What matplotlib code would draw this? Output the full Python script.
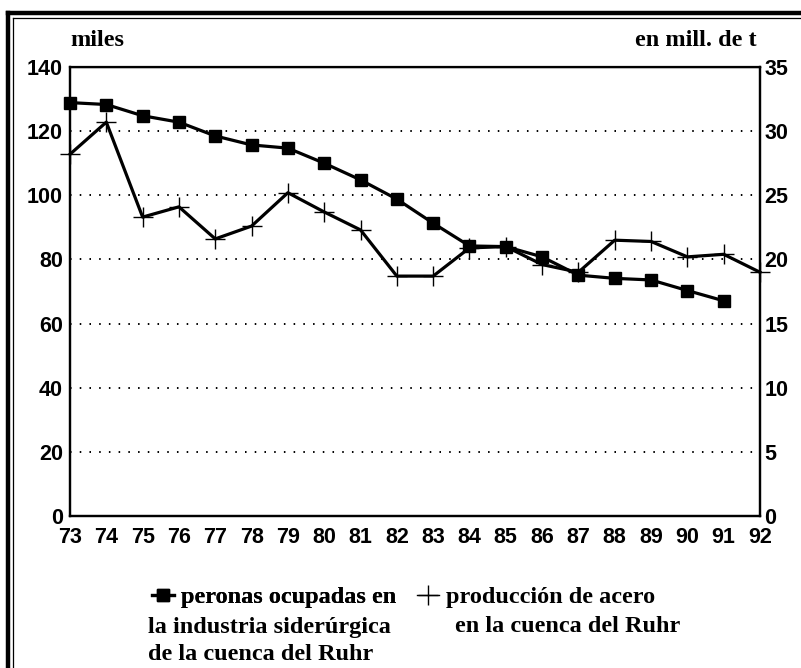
import numpy as np
import matplotlib.pyplot as plt
from matplotlib.lines import Line2D

# data
years = list(range(73, 93))
year_labels = [str(y) for y in years]
personas = [128.9, 128.3, 124.8, 122.8, 118.5, 115.7, 114.7, 110.0, 104.8, 98.8,
            91.3, 84.2, 84.0, 80.8, 75.1, 74.1, 73.6, 70.3, 67.1]
produccion = [28.2, 30.7, 23.3, 24.1, 21.6, 22.6, 25.2, 23.7, 22.3, 18.7,
              18.7, 20.9, 21.0, 19.6, 19.0, 21.5, 21.4, 20.2, 20.4, 19.0]
left_ticks = [0, 20, 40, 60, 80, 100, 120, 140]
right_ticks = [0, 5, 10, 15, 20, 25, 30, 35]

tick_font = {'family': 'Liberation Sans', 'weight': 'bold', 'size': 15.5}
serif = ['Liberation Serif', 'DejaVu Serif']
txt = dict(family=serif, weight='bold', size=17.5)

fig = plt.figure(figsize=(8.01, 6.68), dpi=100)
ax = fig.add_axes([70 / 801, 1 - 516 / 668, 690 / 801, 449 / 668])
ax2 = ax.twinx()

ax.plot(years[:len(personas)], personas, color='black', lw=2.3,
        marker='s', ms=8, zorder=3, clip_on=False)
ax2.plot(years, produccion, color='black', lw=2.3,
         marker='+', ms=15, mew=1.0, zorder=3, clip_on=False)

ax.set_xlim(73, 92)
ax.set_ylim(0, 140)
ax2.set_ylim(0, 35)
ax.set_xticks(years)
ax.set_xticklabels(year_labels, fontdict=tick_font)
ax.set_yticks(left_ticks)
ax.set_yticklabels([str(t) for t in left_ticks], fontdict=tick_font)
ax2.set_yticks(right_ticks)
ax2.set_yticklabels([str(t) for t in right_ticks], fontdict=tick_font)
ax.tick_params(axis='x', length=0, pad=8)
ax.tick_params(axis='y', length=0, pad=5)
ax2.tick_params(axis='y', length=0, pad=3)

for s in ['left', 'right', 'top', 'bottom']:
    ax.spines[s].set_linewidth(1.6)
    ax2.spines[s].set_linewidth(1.6)
ax2.spines['top'].set_linewidth(1.0)

for v in left_ticks[1:-1]:
    ax.axhline(v, color='black', lw=1.4, ls=(0, (0.8, 4.2)), zorder=1)

fig.text(70 / 801, 1 - 40 / 668, 'miles', ha='left', va='center', **txt)
fig.text(757 / 801, 1 - 40 / 668, 'en mill. de t', ha='right', va='center', **txt)

# outer frame (double line at top and left)
fig.add_artist(Line2D([8 / 801, 8 / 801], [0, 1 - 13 / 668], color='black', lw=3.2))
fig.add_artist(Line2D([8 / 801, 1], [1 - 13 / 668, 1 - 13 / 668], color='black', lw=3.2))
fig.add_artist(Line2D([13 / 801, 13 / 801], [0, 1 - 18 / 668], color='black', lw=0.9))
fig.add_artist(Line2D([13 / 801, 1], [1 - 18 / 668, 1 - 18 / 668], color='black', lw=0.9))

# legend
h1 = Line2D([], [], color='black', lw=2.3, marker='s', ms=8)
h2 = Line2D([], [], color='black', lw=1.0, marker='+', ms=15, mew=1.0)
leg_kw = dict(loc='center left', frameon=False, handlelength=0.9,
              handletextpad=0.3, borderaxespad=0, borderpad=0,
              prop={'family': serif, 'weight': 'bold', 'size': 17.5})
leg1 = fig.legend([h1], ['peronas ocupadas en'],
                  bbox_to_anchor=(152 / 801, 1 - 597 / 668), **leg_kw)
fig.add_artist(leg1)
fig.legend([h2], ['producción de acero'],
           bbox_to_anchor=(417 / 801, 1 - 597 / 668), **leg_kw)
fig.text(148 / 801, 1 - 627 / 668, 'la industria siderúrgica',
         ha='left', va='center', **txt)
fig.text(148 / 801, 1 - 655 / 668, 'de la cuenca del Ruhr',
         ha='left', va='center', **txt)
fig.text(455 / 801, 1 - 627 / 668, 'en la cuenca del Ruhr',
         ha='left', va='center', **txt)

fig.savefig('out.png', dpi=100)
